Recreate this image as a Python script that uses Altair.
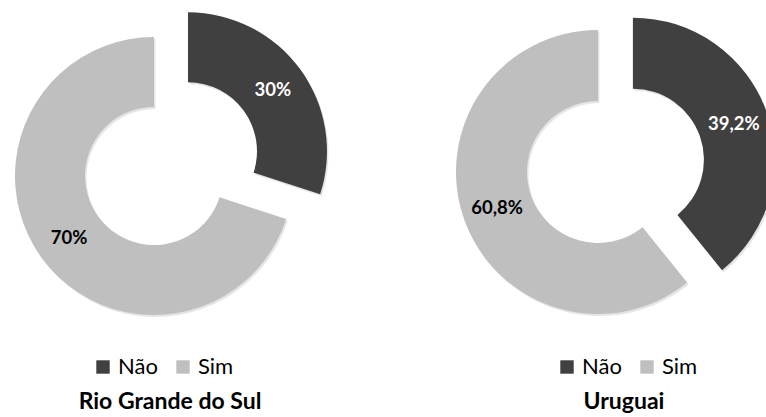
import math
import altair as alt
import pandas as pd

# ---------------- data ----------------
regions = ["Rio Grande do Sul", "Uruguai"]
responses = ["Não", "Sim"]
nao_pct = [30.0, 39.2]
sim_pct = [70.0, 60.8]
nao_labels = ["30%", "39,2%"]
sim_labels = ["70%", "60,8%"]
palette = ["#404040", "#BFBFBF"]

rows = []
for i, reg in enumerate(regions):
    rows.append({"region": reg, "resp": responses[0], "value": nao_pct[i],
                 "label": nao_labels[i], "ord": 0})
    rows.append({"region": reg, "resp": responses[1], "value": sim_pct[i],
                 "label": sim_labels[i], "ord": 1})
df = pd.DataFrame(rows)

# ---------------- layout ----------------
centres = [(154, 176), (598, 172)]
outer_r = [139, 142]
inner_r = [69, 71]
explode = [42, 37]
label_r = [105, 107]
legend_pos = [(92, 356), (556, 356)]
title_x = [170, 624]
title_y = 409
FONT = "Lato"
TWO_PI = 2 * math.pi


def panel(i):
    cx, cy = centres[i]
    mid = nao_pct[i] / 100 * math.pi
    dx = explode[i] * math.sin(mid)
    dy = -explode[i] * math.cos(mid)

    base = (
        alt.Chart(df)
        .transform_filter(alt.datum.region == regions[i])
        .transform_window(cum="sum(value)", sort=[alt.SortField("ord", order="ascending")],
                          frame=[None, 0])
        .transform_calculate(start="datum.cum - datum.value",
                             mid="datum.cum - datum.value / 2")
    )
    th_scale = alt.Scale(domain=[0, 100], range=[0, TWO_PI])

    layers = []
    specs = [
        (responses[1], 0, 0, "#000000", True),
        (responses[0], dx, dy, "#FFFFFF", False),
    ]
    # soft shadows first
    for resp, ox, oy, _, _ in specs:
        layers.append(
            base.transform_filter(alt.datum.resp == resp)
            .mark_arc(radius=outer_r[i], radius2=inner_r[i], color="#000000", opacity=0.10)
            .encode(theta=alt.Theta("start:Q", scale=th_scale), theta2="cum:Q",
                    x=alt.value(cx + ox + 1.5), y=alt.value(cy + oy + 2))
        )
    for resp, ox, oy, tcol, with_legend in specs:
        if with_legend:
            lx, ly = legend_pos[i]
            colour = alt.Color(
                "resp:N",
                scale=alt.Scale(domain=responses, range=palette),
                legend=alt.Legend(orient="none", legendX=lx, legendY=ly,
                                  direction="horizontal", title=None,
                                  symbolType="square", symbolSize=180,
                                  symbolStrokeWidth=0, labelFont=FONT,
                                  labelFontSize=22, labelColor="#000000",
                                  columnPadding=14, labelOffset=4, padding=0),
            )
            arc = (base.transform_filter(alt.datum.resp == resp)
                   .mark_arc(radius=outer_r[i], radius2=inner_r[i])
                   .encode(theta=alt.Theta("start:Q", scale=th_scale), theta2="cum:Q",
                           color=colour, x=alt.value(cx + ox), y=alt.value(cy + oy)))
        else:
            arc = (base.transform_filter(alt.datum.resp == resp)
                   .mark_arc(radius=outer_r[i], radius2=inner_r[i], color=palette[0])
                   .encode(theta=alt.Theta("start:Q", scale=th_scale), theta2="cum:Q",
                           x=alt.value(cx + ox), y=alt.value(cy + oy)))
        layers.append(arc)
    for resp, ox, oy, tcol, _ in specs:
        layers.append(
            base.transform_filter(alt.datum.resp == resp)
            .mark_text(radius=label_r[i], font=FONT, fontWeight="bold", fontSize=18.5,
                       color=tcol, align="center", baseline="middle")
            .encode(theta=alt.Theta("mid:Q", scale=th_scale), text="label:N",
                    x=alt.value(cx + ox), y=alt.value(cy + oy))
        )
    layers.append(
        alt.Chart(pd.DataFrame({"region": [regions[i]]}))
        .mark_text(font=FONT, fontWeight="bold", fontSize=23, color="#000000",
                   align="center", baseline="alphabetic")
        .encode(text="region:N", x=alt.value(title_x[i]), y=alt.value(title_y))
    )
    return alt.layer(*layers)


chart = (
    alt.layer(panel(0), panel(1))
    .resolve_scale(color="independent", theta="independent")
    .properties(width=766, height=417, padding=0,
                autosize=alt.AutoSizeParams(type="none"))
    .configure_view(stroke=None)
)

chart.save("out.html", embed_options={"renderer": "svg", "actions": False})
